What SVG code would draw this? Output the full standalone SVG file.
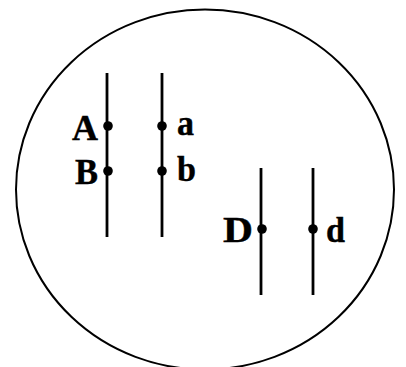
<svg xmlns="http://www.w3.org/2000/svg" width="406" height="367" viewBox="0 0 406 367">
<style>
.ln{stroke:#000;stroke-width:2.8;fill:none}
.dot{fill:#000}
.lb{font-family:"Liberation Serif","Times New Roman",serif;font-weight:bold;font-size:35px;fill:#000;stroke:#000;stroke-width:0.4}
</style>
<rect width="406" height="367" fill="#fff"/>
<g id="cell">
<ellipse cx="205" cy="189.5" rx="189" ry="180" fill="none" stroke="#000" stroke-width="2"/>
</g>
<g id="connectors">
<line class="ln" x1="107" y1="73" x2="107" y2="237"/>
<line class="ln" x1="162" y1="73" x2="162" y2="237"/>
<line class="ln" x1="261" y1="168" x2="261" y2="295"/>
<line class="ln" x1="313" y1="168" x2="313" y2="295"/>
</g>
<g id="A"><circle class="dot" cx="108" cy="126" r="4.8"/><text class="lb" x="72" y="140" textLength="26" lengthAdjust="spacingAndGlyphs">A</text></g>
<g id="B"><circle class="dot" cx="108" cy="171" r="4.8"/><text class="lb" x="75" y="184" textLength="23" lengthAdjust="spacingAndGlyphs">B</text></g>
<g id="a"><circle class="dot" cx="162" cy="126" r="4.8"/><text class="lb" x="177" y="135" textLength="17" lengthAdjust="spacingAndGlyphs">a</text></g>
<g id="b"><circle class="dot" cx="162" cy="171" r="4.8"/><text class="lb" x="177" y="181" textLength="19" lengthAdjust="spacingAndGlyphs">b</text></g>
<g id="D"><circle class="dot" cx="262" cy="229" r="4.8"/><text class="lb" x="223" y="242" textLength="30" lengthAdjust="spacingAndGlyphs">D</text></g>
<g id="d"><circle class="dot" cx="313" cy="229" r="4.8"/><text class="lb" x="326" y="242" textLength="19" lengthAdjust="spacingAndGlyphs">d</text></g>
</svg>
